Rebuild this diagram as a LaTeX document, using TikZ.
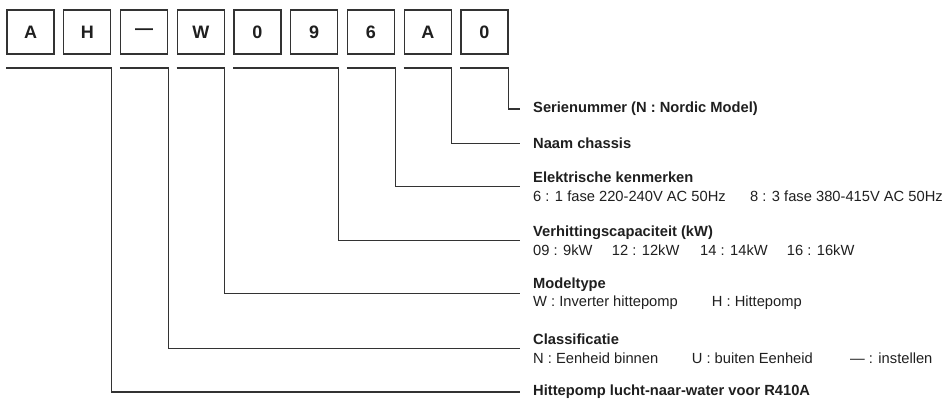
\documentclass[tikz,border=0pt]{standalone}
\usepackage{fontspec}
\setmainfont{Liberation Sans}
\usepackage{tikz}
\usepackage{xcolor}
\definecolor{inkgray}{HTML}{333333}
\newcommand{\tabcell}[2]{\makebox[#1][l]{#2}}

\begin{document}
\begin{tikzpicture}[x=1pt, y=-1pt,
  every node/.style={font=\fontsize{14.7}{18.5}\selectfont, text=black!88, inner sep=0pt},
  codebox/.style={draw=inkgray, line width=1.2pt, minimum width=47pt, minimum height=44pt, font=\fontsize{18}{18}\selectfont\bfseries},
  desc/.style={anchor=west, align=left},
  wire/.style={draw=inkgray, line width=1.2pt}]
        \useasboundingbox (0,0) rectangle (943,400);
        \node[codebox] (c1) at (30.5,32) {A};
        \node[codebox] (c2) at (87.25,32) {H};
        \node[codebox] (c3) at (144,32) {---};
        \node[codebox] (c4) at (200.75,32) {W};
        \node[codebox] (c5) at (257.5,32) {0};
        \node[codebox] (c6) at (314.25,32) {9};
        \node[codebox] (c7) at (371,32) {6};
        \node[codebox] (c8) at (427.75,32) {A};
        \node[codebox] (c9) at (484.5,32) {0};
        \coordinate (top) at (0,68);
        \node[desc] (serie) at (533,109) {\textbf{Serienummer (N : Nordic Model)}};
        \node[desc] (naam) at (533,143.5) {\textbf{Naam chassis}};
        \node[desc] (elek) at (533,186.5) {\textbf{Elektrische kenmerken}\\\tabcell{217pt}{6 : 1 fase 220-240V AC 50Hz}8 : 3 fase 380-415V AC 50Hz};
        \node[desc] (verw) at (533,240.5) {\textbf{Verhittingscapaciteit (kW)}\\\tabcell{78.7pt}{09 : 9kW}\tabcell{88.3pt}{12 : 12kW}\tabcell{86.7pt}{14 : 14kW}16 : 16kW};
        \node[desc] (model) at (533,293.5) {\textbf{Modeltype}\\\tabcell{178.7pt}{W : Inverter hittepomp}H : Hittepomp};
        \node[desc] (klas) at (533,348.5) {\textbf{Classificatie}\\\tabcell{158.7pt}{N : Eenheid binnen}\tabcell{158.3pt}{U : buiten Eenheid}--- : instellen};
        \node[desc] (pomp) at (533,392) {\textbf{Hittepomp lucht-naar-water voor R410A}};
        \draw[wire] (c9.west |- top) -- (c9.east |- top) |- ([xshift=-13pt]serie.west);
        \draw[wire] (c8.west |- top) -- (c8.east |- top) |- ([xshift=-13pt]naam.west);
        \draw[wire] (c7.west |- top) -- (c7.east |- top) |- ([xshift=-13pt]elek.west);
        \draw[wire] (c5.west |- top) -- (c6.east |- top) |- ([xshift=-13pt]verw.west);
        \draw[wire] (c4.west |- top) -- (c4.east |- top) |- ([xshift=-13pt]model.west);
        \draw[wire] (c3.west |- top) -- (c3.east |- top) |- ([xshift=-13pt]klas.west);
        \draw[wire] (c1.west |- top) -- (c2.east |- top) |- ([xshift=-13pt]pomp.west);
      \end{tikzpicture}
\end{document}
